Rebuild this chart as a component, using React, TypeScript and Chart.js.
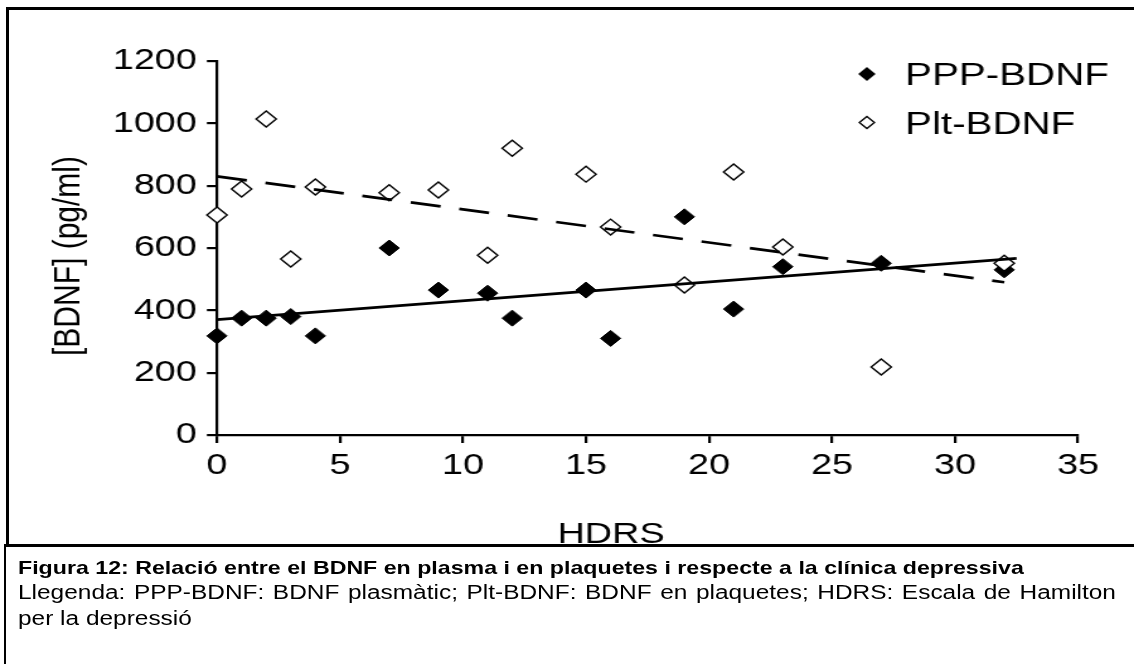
import React, { useEffect, useRef } from "react";
import { Chart, registerables } from "chart.js";

Chart.register(...registerables);

// ---- data ----
const HDRS = [0, 1, 2, 3, 4, 7, 9, 11, 12, 15, 16, 19, 21, 23, 27, 32];
const PPP_BDNF = [318, 375, 375, 380, 318, 600, 465, 455, 375, 465, 310, 700, 404, 540, 551, 530];
const PLT_BDNF = [706, 789, 1014, 565, 796, 777, 786, 577, 920, 837, 667, 481, 844, 603, 218, 551];
const PPP_TREND_X = [0, 32.5];
const PPP_TREND_Y = [370, 567];
const PLT_TREND_X = [0, 32];
const PLT_TREND_Y = [830, 490];
const X_TICKS = [0, 5, 10, 15, 20, 25, 30, 35];
const Y_TICKS = [0, 200, 400, 600, 800, 1000, 1200];
const SERIES_LABELS = ["PPP-BDNF", "Plt-BDNF"];
const X_TITLE = "HDRS";
const Y_TITLE = "[BDNF] (pg/ml)";
const CAPTION_TITLE =
  "Figura 12: Relació entre el BDNF en plasma i en plaquetes i respecte a la clínica depressiva";
const CAPTION_LINE = "Llegenda: PPP-BDNF: BDNF plasmàtic; Plt-BDNF: BDNF en plaquetes; HDRS: Escala de Hamilton";
const CAPTION_END = "per la depressió";

const S = 1.26; // horizontal stretch of the reference picture
const W = 900; // unstretched width
const FONT = "'Liberation Sans', Arial, Helvetica, sans-serif";

const overlayPlugin = {
  id: "overlay",
  afterDraw(chart: any) {
    const ctx = chart.ctx as CanvasRenderingContext2D;
    const ca = chart.chartArea;
    ctx.save();
    ctx.fillStyle = "#000";
    // x axis title
    ctx.font = `30px ${FONT}`;
    ctx.textAlign = "center";
    ctx.textBaseline = "alphabetic";
    ctx.fillText(X_TITLE, (ca.left + ca.right) / 2 - 29, ca.bottom + 108);
    // y axis title
    ctx.save();
    ctx.translate(ca.left - 109.6, (ca.top + ca.bottom) / 2 + 8);
    ctx.rotate(-Math.PI / 2);
    ctx.fillText(Y_TITLE, 0, 0);
    ctx.restore();
    // legend
    const items = chart.data.datasets.filter((d: any) => d.isSeries);
    items.sort((a: any, b: any) => a.legendIndex - b.legendIndex);
    ctx.font = `32px ${FONT}`;
    ctx.textAlign = "left";
    items.forEach((d: any, i: number) => {
      const cy = ca.top + 13 + i * 48.5;
      const cx = ca.right - 167.6;
      const r = 6;
      ctx.beginPath();
      ctx.moveTo(cx, cy - r);
      ctx.lineTo(cx + r, cy);
      ctx.lineTo(cx, cy + r);
      ctx.lineTo(cx - r, cy);
      ctx.closePath();
      ctx.fillStyle = d.backgroundColor;
      ctx.fill();
      ctx.lineWidth = 1.3;
      ctx.strokeStyle = d.borderColor;
      ctx.stroke();
      ctx.fillStyle = "#000";
      ctx.fillText(d.label, ca.right - 137.3, ca.top + 24 + i * 48.5);
    });
    ctx.restore();
  },
};

export default function App() {
  const ref = useRef<HTMLCanvasElement>(null);
  useEffect(() => {
    document.body.style.margin = "0";
    const canvas = ref.current!;
    const axisCommon = (ticks: number[]) => ({
      type: "linear" as const,
      afterBuildTicks: (s: any) => {
        s.ticks = ticks.map((v) => ({ value: v }));
      },
      grid: {
        display: true,
        drawOnChartArea: false,
        drawTicks: true,
        tickLength: 8,
        color: "#000",
        lineWidth: 2.2,
      },
      border: { display: true, color: "#000", width: 2.2 },
      ticks: {
        color: "#000",
        font: { family: FONT, size: 30 },
        autoSkip: false,
        maxRotation: 0,
        callback: (v: any) => String(v),
      },
      title: { display: false },
    });
    const xAxis: any = axisCommon(X_TICKS);
    xAxis.min = 0;
    xAxis.max = 35;
    xAxis.ticks.padding = 5;
    xAxis.afterFit = (s: any) => {
      s.height = 49;
    };
    const yAxis: any = axisCommon(Y_TICKS);
    yAxis.min = 0;
    yAxis.max = 1200;
    yAxis.ticks.padding = 8;
    yAxis.afterFit = (s: any) => {
      s.width = 136.2;
    };

    const chart = new Chart(canvas, {
      type: "scatter",
      data: {
        datasets: [
          {
            label: "PPP trend",
            data: PPP_TREND_X.map((x, i) => ({ x, y: PPP_TREND_Y[i] })),
            showLine: true,
            borderColor: "#000",
            borderWidth: 2.7,
            pointRadius: 0,
            order: 0,
            clip: false,
          } as any,
          {
            label: "Plt trend",
            data: PLT_TREND_X.map((x, i) => ({ x, y: PLT_TREND_Y[i] })),
            showLine: true,
            borderColor: "#000",
            borderWidth: 2.7,
            borderDash: [24, 15],
            pointRadius: 0,
            order: 0,
            clip: false,
          } as any,
          {
            label: SERIES_LABELS[1],
            isSeries: true,
            legendIndex: 1,
            data: HDRS.map((x, i) => ({ x, y: PLT_BDNF[i] })),
            pointStyle: "rectRot",
            pointRadius: 8,
            backgroundColor: "#fff",
            borderColor: "#000",
            borderWidth: 1.4,
            order: 1,
            clip: false,
          } as any,
          {
            label: SERIES_LABELS[0],
            isSeries: true,
            legendIndex: 0,
            data: HDRS.map((x, i) => ({ x, y: PPP_BDNF[i] })),
            pointStyle: "rectRot",
            pointRadius: 8,
            backgroundColor: "#000",
            borderColor: "#000",
            borderWidth: 1,
            order: 2,
            clip: false,
          } as any,
        ],
      },
      options: {
        responsive: false,
        animation: false,
        devicePixelRatio: 1,
        layout: { padding: { left: 36, top: 61, right: 44.4, bottom: 61 } },
        plugins: { legend: { display: false }, tooltip: { enabled: false } },
        scales: { x: xAxis, y: yAxis },
      } as any,
      plugins: [overlayPlugin],
    });
    return () => chart.destroy();
  }, []);

  return (
    <div style={{ position: "fixed", left: 0, top: 0, width: 1134, height: 664, background: "#fff", overflow: "hidden" }}>
      <div
        style={{
          position: "absolute",
          left: 0,
          top: 0,
          width: W,
          height: 664,
          transform: `scaleX(${S})`,
          transformOrigin: "0 0",
        }}
      >
        <canvas
          ref={ref}
          width={W}
          height={545}
          style={{ position: "absolute", left: 0, top: 0, width: W + "px", height: "545px" }}
        />
        <div
          style={{
            position: "absolute",
            left: 14.3,
            top: 554.5,
            width: 871.4,
            fontFamily: FONT,
            fontSize: 19.4,
            lineHeight: "25.5px",
            color: "#000",
          }}
        >
          <div style={{ fontWeight: "bold", whiteSpace: "nowrap", fontSize: 18.4 }}>{CAPTION_TITLE}</div>
          <div style={{ textAlign: "justify", textAlignLast: "justify", whiteSpace: "nowrap" as any }}>
            {CAPTION_LINE}
          </div>
          <div>{CAPTION_END}</div>
        </div>
      </div>
      {/* frame of the figure */}
      <div style={{ position: "absolute", left: 6, top: 7, width: 1140, height: 3, background: "#000" }} />
      <div style={{ position: "absolute", left: 6, top: 7, width: 3, height: 538, background: "#000" }} />
      {/* frame of the caption */}
      <div style={{ position: "absolute", left: 4, top: 544, width: 1140, height: 2.5, background: "#000" }} />
      <div style={{ position: "absolute", left: 4, top: 544, width: 2, height: 130, background: "#000" }} />
    </div>
  );
}
